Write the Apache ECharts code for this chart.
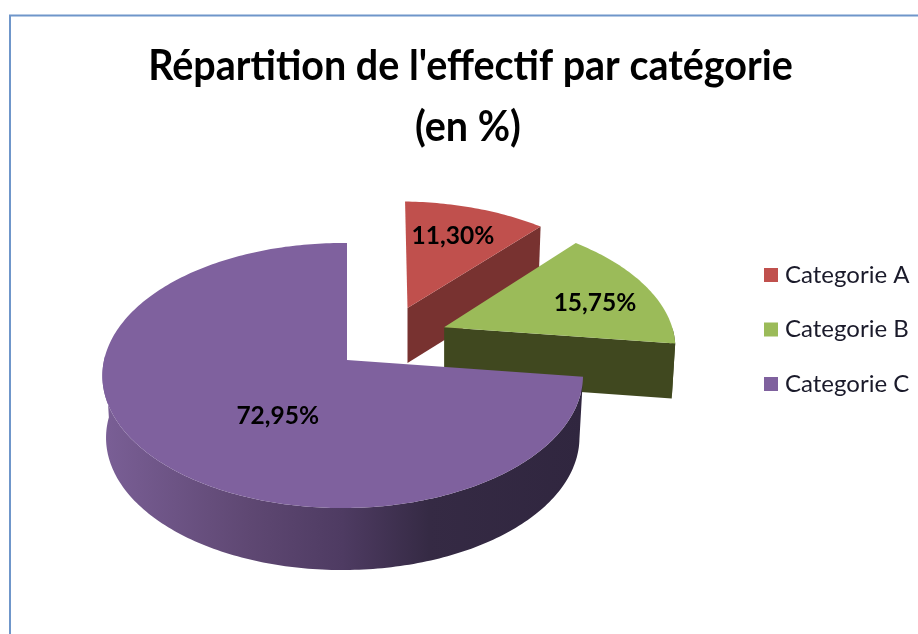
<!DOCTYPE html>
<html><head><meta charset="utf-8">
<style>html,body{margin:0;padding:0;background:#fff}#c{width:918px;height:634px}</style>
<script src="https://cdn.jsdelivr.net/npm/echarts@6/dist/echarts.min.js"></script>
</head><body><div id="c"></div>
<script>
const categories = ['Categorie A', 'Categorie B', 'Categorie C'];
const percentages = [11.30, 15.75, 72.95];
const topColors = ['#c0504d', '#9bbb59', '#7f619e'];
const sideColors = ['#783230', '#40481f', '#3a2d4a'];
const titleLines = ["Répartition de l'effectif par catégorie", "(en %)"];

// Projection of the pie's plane on to the screen (perspective view)
const view = {x0: 347, y0: 360, a: 238.6, b: 130.7, p: 0.117, q: -0.0178, taper: 0.985};
// Explosion of each slice, nudge of its tip, and label anchor, in plane units
const explode = [[0.285, -0.42], [0.44, -0.26], [0, 0]];
const tipNudge = [-4, -4, 0];
const labelAt = [[0.504, -1.08], [1.117, -0.47], [-0.275, 0.41]];
const wallH = [55, 55, 62];

function project(u, v) {
  const w = 1 - view.p * v - view.q * u;
  return [view.x0 + view.a * u / w, view.y0 + view.b * v / w];
}
function rimPoint(i, deg) {
  const t = deg * Math.PI / 180;
  return project(explode[i][0] + Math.sin(t), explode[i][1] - Math.cos(t));
}
function arcDegrees(a, b) {
  const out = [];
  for (let d = a; d < b; d += 1) out.push(d);
  out.push(b);
  return out;
}
const total = percentages.reduce((s, x) => s + x, 0);
const pctText = v => v.toFixed(2).replace('.', ',') + '%';

function renderSlice(i) {
  return function (params, api) {
    const val = api.value(0);
    const before = percentages.slice(0, i).reduce((s, x) => s + x, 0);
    const start = before / total * 360, end = (before + val) / total * 360;
    const apex = project(explode[i][0], explode[i][1]);
    apex[0] += tipNudge[i];
    const h = wallH[i];
    const down = p => [apex[0] + (p[0] - apex[0]) * view.taper, p[1] + h];
    const children = [];
    const rw0 = Math.max(start, 90), rw1 = Math.min(end, 272);
    if (rw1 > rw0) {
      const top = arcDegrees(rw0, rw1).map(d => rimPoint(i, d));
      const pts = top.concat(top.slice().reverse().map(down));
      const fill = i === 2 ? {
        type: 'linear', x: 0, y: 0, x2: 1, y2: 0,
        colorStops: [
          {offset: 0, color: '#7a5f96'}, {offset: 0.3, color: '#5f4873'},
          {offset: 0.5, color: '#4e3b62'}, {offset: 0.68, color: '#352a44'},
          {offset: 1, color: '#30263f'}
        ]
      } : sideColors[i];
      children.push({type: 'polygon', shape: {points: pts}, style: {fill: fill}});
    }
    if (end < 180) {
      const r = rimPoint(i, end);
      children.push({type: 'polygon', shape: {points: [apex, r, down(r), [apex[0], apex[1] + h]]},
        style: {fill: sideColors[i]}});
    }
    const face = [apex].concat(arcDegrees(start, end).map(d => rimPoint(i, d)));
    children.push({type: 'polygon', shape: {points: face}, style: {fill: topColors[i]}});
    const lp = project(labelAt[i][0], labelAt[i][1]);
    children.push({type: 'text', z2: 10, x: lp[0], y: lp[1], style: {
      text: pctText(val), align: 'center', verticalAlign: 'middle',
      fontFamily: 'Lato', fontWeight: 'bold', fontSize: 24.5, fill: '#000'}});
    return {type: 'group', children: children};
  };
}

const titleStyle = {fontFamily: 'Lato', fontWeight: 'bold', fontSize: 42, fill: '#000', align: 'center', verticalAlign: 'middle'};
const chart = echarts.init(document.getElementById('c'), null, {renderer: 'canvas'});
chart.setOption({
  animation: false,
  backgroundColor: '#fff',
  color: topColors,
  legend: {
    orient: 'vertical', left: 759, top: 258, icon: 'rect', itemWidth: 14, itemHeight: 14,
    itemGap: 30.5, data: categories,
    textStyle: {fontFamily: 'Lato', fontSize: 24, color: '#1a1a2a', padding: [0, 0, 0, 2]}
  },
  graphic: [{
    type: 'polyline', silent: true,
    shape: {points: [[10, 700], [10, 15.5], [1000, 15.5]]},
    style: {stroke: '#6f96ca', lineWidth: 2, fill: null}
  }, {
    type: 'text', silent: true, x: 470.5, y: 66, scaleX: 0.94,
    style: Object.assign({text: titleLines[0]}, titleStyle)
  }, {
    type: 'text', silent: true, x: 468, y: 127, scaleX: 0.94,
    style: Object.assign({text: titleLines[1]}, titleStyle)
  }],
  series: categories.map((name, i) => ({
    type: 'custom', name: name, coordinateSystem: 'none', clip: false,
    itemStyle: {color: topColors[i]},
    renderItem: renderSlice(i),
    data: [[percentages[i]]],
    encode: {value: 0}
  }))
});
</script></body></html>
